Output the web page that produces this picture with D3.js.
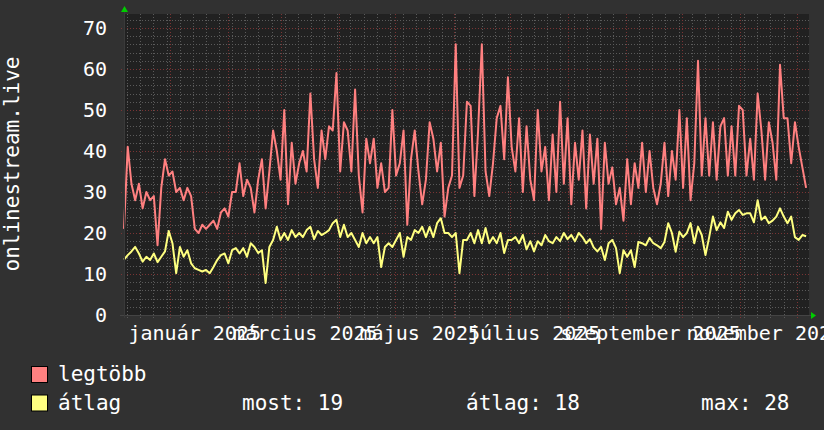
<!DOCTYPE html>
<html><head><meta charset="utf-8">
<script src="https://cdn.jsdelivr.net/npm/d3@7"></script>
<style>html,body{margin:0;padding:0;background:#313131;} svg{display:block}</style>
</head><body><svg id="c" width="824" height="430"></svg>
<script>
// ---------- data ----------
const yTitle = "onlinestream.live";
const seriesNames = ["legtöbb", "átlag"];
const seriesColors = ["#ff8080", "#ffff80"];
const firstPoint = new Date(2024, 11, 7, 7);
const lastPoint = new Date(2025, 11, 6, 0);
const legtobb = [21,41,32,28,32,26,30,28,29,17, 31,38,34,35,30,31,28,31,29,21,
  20,22,21,22,23,21,25,26,24,30, 30,37,29,33,31,25,33,38,26,35,
  45,40,33,50,27,42,32,37,40,35, 54,38,31,45,38,46,45,59,35,47,
  45,35,55,34,25,43,37,43,31,37, 30,31,50,34,37,45,22,38,45,35,
  27,33,47,43,35,42,24,31,34,66, 31,34,52,51,29,45,66,35,29,37,
  48,51,38,58,41,
  35,48,30,46,33,28,50,35,41,28, 44,30,52,32,48,27,42,33,45,26, 44,32,43,
  21,42,32,36,27,31,23,38,27,37, 31,42,30,40,31,27,32,42,29,40,
  33,50,31,48,28,37,62,34,48,34, 47,33,46,48,34,46,34,51,50,34,
  43,33,54,45,33,47,42,33,61,48, 48,37,47,41,36,31];
const atlag = [13.5,14.6,15.5,16.6,15,13,14.2,13.4,15,12.9, 14.2,15.5,20.5,17.5,10.2,16.6,14.2,15.8,12.6,11.4,
  11,10.6,11,10.2,11.7,13.4,14.6,15,12.6,15.8, 16.3,15,16.3,14.2,17.5,16.6,15.1,15.8,7.8,16.6,
  18.3,21.5,18.3,20,18.3,20.7,19,20,19,20.7, 21.5,18.5,20.5,19.5,20,20.7,22.4,23.2,19,22,
  19,20,18.3,16.6,20,17.5,19,17.5,19,11.7, 16.6,17.5,16.6,18.3,20,14.2,19,18.3,20.7,20,
  21.5,19,21.5,19,22.4,23.6,20,20,19,20, 10.2,18.3,18.3,20,17.5,20.7,17.5,21.2,17.5,19,
  17.5,20,15.1,18.3,18.3,
  19,17.5,19.5,16,18,15.5,18,17,19.5,18, 17.5,19,18,20,18.5,19.5,18,20,19,17.5, 18.5,16.5,15.5,
  16.6,13.4,17.5,18.3,16.3,10.2,15.8,14.2,15.8,11.7, 17.8,17.5,17,18.8,17.5,17,16.3,17.8,22.4,20,
  15.4,20.3,19,20,22.4,17.5,21.5,19.5,14.6,19, 24,20.7,22.6,21.2,25.2,23.2,24.8,25.6,24.4,24.8,
  24.8,22.6,28,23.2,24,22.4,23,24,26,24, 22.4,24,19,18.3,19.5,19.2];
const yTicks = [0,10,20,30,40,50,60,70];
const monthLabelDates = [new Date(2025,0,1), new Date(2025,2,1), new Date(2025,4,1), new Date(2025,6,1), new Date(2025,8,1), new Date(2025,10,1)];
const monthLabels = ["január 2025","március 2025","május 2025","július 2025","szeptember 2025","november 2025"];
const statLabels = ["most:", "átlag:", "max:"];
const statValues = [19, 18, 28];

// ---------- layout ----------
const svg = d3.select("#c");
const P = {left:124, right:809, top:14, bottom:315};
const x = d3.scaleTime().domain([new Date(2024,11,7,7), new Date(2025,11,7,13)]).range([P.left, P.right]);
const y = d3.scaleLinear().domain([0, 73.4]).range([P.bottom, P.top]);
const idx = d3.scaleLinear().domain([0, legtobb.length-1]).range([+firstPoint, +lastPoint]);
const FONT = "'DejaVu Sans Mono', monospace";

svg.append("rect").attr("width",824).attr("height",430).attr("fill","#313131");
svg.append("rect").attr("x",P.left).attr("y",P.top).attr("width",P.right-P.left).attr("height",P.bottom-P.top).attr("fill","#212121");

const minorCol = "#5a5a5a", majorCol = "#7a3434";
const g = svg.append("g");
const minorH = d3.range(0, 73.4, 2).filter(v => v % 10 !== 0);
g.selectAll(".mh").data(minorH).join("line")
  .attr("x1",P.left).attr("x2",P.right).attr("y1",d=>Math.round(y(d))+0.5).attr("y2",d=>Math.round(y(d))+0.5)
  .attr("stroke",minorCol).attr("stroke-dasharray","1,2");
const weeks = d3.timeMonday.range(x.domain()[0], x.domain()[1]);
g.selectAll(".mv").data(weeks).join("line")
  .attr("y1",P.top).attr("y2",P.bottom+3).attr("x1",d=>Math.round(x(d))+0.5).attr("x2",d=>Math.round(x(d))+0.5)
  .attr("stroke",minorCol).attr("stroke-dasharray","1,2");
g.selectAll(".MH").data(yTicks.filter(v=>v>0)).join("line")
  .attr("x1",P.left-3).attr("x2",P.right).attr("y1",d=>Math.round(y(d))+0.5).attr("y2",d=>Math.round(y(d))+0.5)
  .attr("stroke",majorCol).attr("stroke-dasharray","1,2");
const months = d3.timeMonth.range(x.domain()[0], x.domain()[1]);
g.selectAll(".MV").data(months).join("line")
  .attr("y1",P.top).attr("y2",P.bottom+4).attr("x1",d=>Math.round(x(d))+0.5).attr("x2",d=>Math.round(x(d))+0.5)
  .attr("stroke",majorCol).attr("stroke-dasharray","1,2");

// series lines
const series = [legtobb, atlag];
series.forEach((vals, k) => {
  const line = d3.line().x((d,i)=>x(new Date(idx(i)))).y(d=>y(d));
  svg.append("path").datum(vals).attr("d", line).attr("fill","none")
    .attr("stroke", seriesColors[k]).attr("stroke-width", 2).attr("stroke-linejoin","round");
});

// axes
svg.append("line").attr("x1",P.left-4).attr("x2",P.right+2).attr("y1",P.bottom+0.5).attr("y2",P.bottom+0.5).attr("stroke","#444");
svg.append("line").attr("x1",P.left+0.5).attr("x2",P.left+0.5).attr("y1",P.top-4).attr("y2",P.bottom+3).attr("stroke","#3a3a3a");
svg.append("path").attr("d",`M${P.left-3},${P.top-2} L${P.left+4},${P.top-2} L${P.left+0.5},${P.top-8} Z`).attr("fill","#00cc00");
svg.append("path").attr("d",`M${P.right+2},${P.bottom-3} L${P.right+2},${P.bottom+4} L${P.right+7},${P.bottom+0.5} Z`).attr("fill","#00cc00");

svg.selectAll(".yl").data(yTicks).join("text")
  .attr("x",107).attr("y",d=>y(d)).attr("dy","0.36em").attr("text-anchor","end")
  .attr("font-family",FONT).attr("font-size",20).attr("fill","#ffffff").text(d=>d);
svg.selectAll(".xl").data(monthLabelDates).join("text")
  .attr("x",d=>x(d3.timeDay.offset(d,13))).attr("y",340).attr("text-anchor","middle")
  .attr("font-family",FONT).attr("font-size",20).attr("fill","#ffffff").text((d,i)=>monthLabels[i]);
svg.append("text").attr("transform","translate(19,164) rotate(-90)").attr("text-anchor","middle")
  .attr("font-family",FONT).attr("font-size",21).attr("fill","#ffffff").text(yTitle);

seriesNames.forEach((n,k)=>{
  const yy = 366 + k*28.5;
  svg.append("rect").attr("x",31.5).attr("y",yy+0.5).attr("width",16).attr("height",16)
    .attr("fill",seriesColors[k]).attr("stroke","#000").attr("stroke-width",1);
  svg.append("text").attr("x",58).attr("y",yy+15).attr("font-family",FONT).attr("font-size",21)
    .attr("fill","#ffffff").text(n);
});
const statX = [242, 466, 701];
statLabels.forEach((s,k)=>{
  svg.append("text").attr("x",statX[k]).attr("y",409.5).attr("font-family",FONT).attr("font-size",21)
    .attr("fill","#ffffff").attr("xml:space","preserve").text(s + " " + statValues[k]);
});
</script></body></html>
